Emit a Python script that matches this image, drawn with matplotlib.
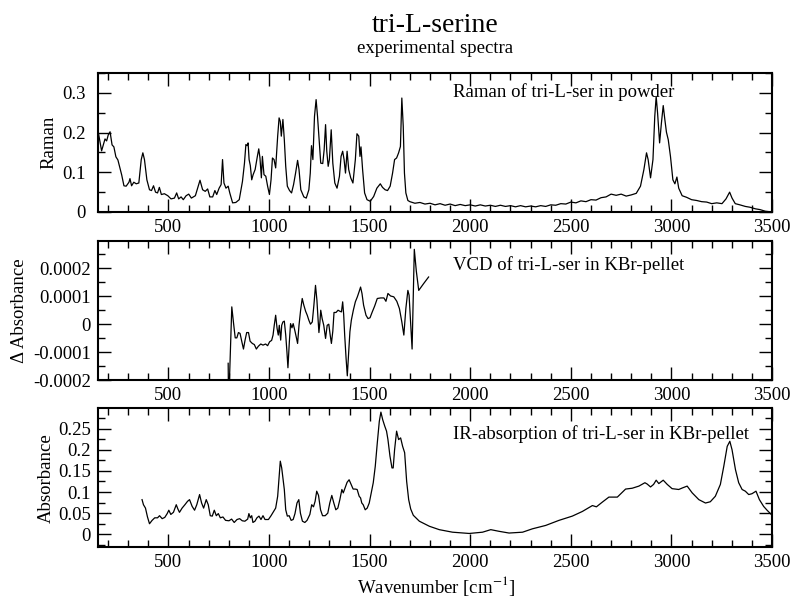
import numpy as np
import matplotlib.pyplot as plt
from matplotlib.ticker import MultipleLocator, FuncFormatter

plt.rcParams["font.family"] = ["Liberation Serif", "DejaVu Serif"]
plt.rcParams["mathtext.fontset"] = "stix"

# Raman of tri-L-ser in powder
raman_wn = [150, 168, 185, 193, 201, 210, 220, 229, 239, 249,
            259, 268, 279, 290, 304, 309, 317, 328, 340, 353,
            365, 373, 381, 393, 406, 416, 426, 436, 446, 455,
            465, 480, 497, 513, 530, 541, 551, 563, 574, 588,
            601, 614, 634, 645, 657, 670, 683, 695, 706, 720,
            731, 740, 752, 762, 769, 776, 786, 797, 805, 819,
            835, 852, 868, 878, 885, 891, 896, 901, 907, 914,
            921, 931, 942, 949, 955, 962, 967, 975, 984, 993,
            1002, 1010, 1017, 1025, 1033, 1043, 1050, 1056, 1061, 1069,
            1076, 1083, 1091, 1102, 1112, 1122, 1132, 1142, 1149, 1158,
            1173, 1185, 1198, 1205, 1211, 1218, 1226, 1234, 1241, 1248,
            1257, 1267, 1274, 1281, 1287, 1294, 1300, 1309, 1317, 1327,
            1338, 1350, 1358, 1366, 1373, 1380, 1388, 1396, 1406, 1417,
            1429, 1437, 1446, 1452, 1457, 1465, 1475, 1487, 1503, 1520,
            1536, 1553, 1564, 1577, 1589, 1602, 1614, 1624, 1634, 1644,
            1653, 1660, 1667, 1673, 1680, 1690, 1700, 1725, 1750, 1775,
            1800, 1825, 1850, 1875, 1900, 1925, 1950, 1975, 2000, 2025,
            2050, 2075, 2100, 2125, 2150, 2175, 2200, 2225, 2250, 2275,
            2300, 2325, 2350, 2375, 2400, 2425, 2450, 2475, 2500, 2525,
            2550, 2575, 2600, 2625, 2650, 2675, 2700, 2725, 2750, 2775,
            2800, 2825, 2846, 2863, 2876, 2884, 2896, 2908, 2917, 2924,
            2931, 2941, 2950, 2959, 2967, 2975, 2984, 2995, 3007, 3017,
            3027, 3036, 3053, 3075, 3100, 3125, 3150, 3175, 3200, 3225,
            3251, 3271, 3289, 3301, 3317, 3340, 3367, 3390, 3417, 3440,
            3466, 3500]
raman_int = [.205, .154, .184, .179, .194, .202, .169, .164, .139, .131,
             .111, .093, .066, .065, .075, .084, .066, .075, .071, .073,
             .132, .149, .132, .081, .056, .054, .066, .050, .048, .062,
             .044, .046, .041, .033, .035, .048, .033, .038, .031, .041,
             .045, .035, .041, .060, .080, .056, .052, .058, .038, .038,
             .054, .044, .060, .069, .132, .073, .060, .065, .048, .023,
             .024, .031, .077, .123, .170, .167, .174, .132, .117, .081,
             .094, .107, .140, .159, .136, .086, .140, .094, .090, .065,
             .044, .081, .136, .132, .111, .191, .237, .228, .191, .233,
             .182, .115, .065, .054, .048, .069, .098, .130, .107, .056,
             .038, .035, .056, .098, .167, .132, .241, .283, .241, .191,
             .123, .122, .157, .220, .153, .115, .132, .207, .123, .073,
             .060, .090, .140, .153, .132, .098, .153, .107, .086, .073,
             .132, .197, .191, .140, .164, .107, .048, .031, .027, .039,
             .060, .071, .062, .056, .054, .065, .098, .132, .136, .149,
             .165, .287, .216, .098, .048, .029, .026, .022, .024, .020,
             .022, .018, .021, .017, .020, .016, .019, .016, .018, .015,
             .018, .015, .017, .014, .017, .014, .016, .013, .016, .013,
             .015, .013, .016, .014, .018, .017, .021, .020, .025, .023,
             .028, .026, .031, .030, .036, .038, .045, .042, .045, .040,
             .043, .047, .065, .107, .149, .132, .086, .132, .241, .291,
             .249, .174, .224, .268, .233, .201, .182, .140, .081, .071,
             .088, .060, .041, .037, .031, .029, .026, .025, .021, .023,
             .021, .033, .050, .035, .021, .018, .014, .012, .008, .006,
             .002, .000]

# VCD of tri-L-ser in KBr-pellet (delta absorbance, units of 1e-4)
vcd_wn = [797, 799, 815, 823, 832, 840, 848, 856, 865, 873,
          881, 889, 898, 906, 917, 927, 937, 947, 959, 970,
          983, 993, 1003, 1013, 1020, 1026, 1033, 1040, 1046, 1051,
          1058, 1063, 1069, 1076, 1083, 1089, 1094, 1101, 1107, 1114,
          1120, 1129, 1135, 1142, 1149, 1157, 1165, 1173, 1182, 1190,
          1198, 1206, 1215, 1223, 1231, 1238, 1243, 1248, 1253, 1257,
          1264, 1272, 1281, 1289, 1297, 1304, 1310, 1317, 1323, 1333,
          1343, 1353, 1360, 1366, 1371, 1376, 1383, 1389, 1396, 1402,
          1409, 1419, 1429, 1439, 1447, 1455, 1462, 1470, 1482, 1492,
          1502, 1512, 1525, 1538, 1555, 1571, 1581, 1591, 1604, 1620,
          1635, 1648, 1660, 1670, 1680, 1690, 1696, 1711, 1722, 1732,
          1744, 1768, 1793]
vcd_da = [-1.40, -3.00, 0.62, 0.08, -0.49, -0.49, -0.30, -0.33, -0.63, -0.89,
          -0.57, -0.30, -0.30, -0.61, -0.69, -0.73, -0.89, -0.79, -0.71, -0.75,
          -0.71, -0.77, -0.63, -0.58, -0.39, -0.04, 0.32, -0.15, -0.39, -0.04,
          -0.57, -0.04, 0.08, 0.11, -0.39, -0.99, -1.56, -0.63, 0.02, -0.13,
          0.02, -0.25, -0.45, -0.69, -0.04, 0.50, 0.92, 0.68, 0.46, 0.32,
          0.14, 0.00, 0.08, 0.68, 1.39, 0.86, 0.26, -0.30, 0.08, 0.50,
          0.20, -0.04, -0.51, -0.04, 0.00, -0.39, -0.69, -0.25, 0.42, 0.42,
          0.50, 0.46, 0.44, 0.80, 0.35, -0.39, -1.23, -1.85, -0.99, -0.27,
          0.14, 0.50, 0.80, 0.98, 1.15, 1.33, 1.10, 0.68, 0.32, 0.20,
          0.23, 0.42, 0.65, 0.92, 0.94, 0.94, 0.82, 1.10, 1.01, 0.98,
          0.82, 0.56, 0.08, -0.39, 0.56, 1.21, 1.04, -0.89, 2.68, 1.90,
          1.21, 1.45, 1.69]

# IR-absorption of tri-L-ser in KBr-pellet
ir_wn = [369, 376, 386, 396, 406, 419, 432, 446, 456, 469,
         482, 494, 502, 512, 525, 539, 547, 555, 568, 582,
         595, 605, 618, 630, 641, 655, 665, 675, 688, 698,
         708, 718, 728, 738, 748, 758, 771, 784, 801, 814,
         827, 841, 854, 867, 880, 894, 900, 907, 914, 920,
         930, 940, 950, 960, 970, 980, 997, 1010, 1023, 1033,
         1043, 1050, 1056, 1063, 1070, 1076, 1083, 1091, 1100, 1110,
         1120, 1129, 1139, 1148, 1156, 1166, 1178, 1189, 1203, 1212,
         1221, 1229, 1237, 1246, 1256, 1266, 1279, 1292, 1302, 1312,
         1322, 1332, 1342, 1352, 1362, 1369, 1378, 1388, 1398, 1408,
         1418, 1428, 1438, 1448, 1455, 1461, 1468, 1478, 1488, 1498,
         1508, 1518, 1528, 1538, 1548, 1556, 1565, 1575, 1584, 1591,
         1601, 1611, 1617, 1624, 1634, 1644, 1654, 1664, 1674, 1684,
         1694, 1704, 1717, 1747, 1797, 1846, 1912, 1995, 2061, 2102,
         2144, 2193, 2260, 2309, 2375, 2441, 2507, 2557, 2607, 2627,
         2656, 2689, 2731, 2772, 2805, 2838, 2868, 2879, 2896, 2911,
         2924, 2937, 2959, 2979, 3003, 3036, 3056, 3078, 3103, 3136,
         3169, 3193, 3218, 3243, 3260, 3277, 3290, 3301, 3318, 3334,
         3351, 3367, 3384, 3400, 3420, 3437, 3458, 3475, 3500]
ir_abs = [.082, .070, .062, .041, .025, .033, .039, .039, .044, .037,
          .040, .049, .057, .047, .052, .070, .060, .052, .062, .070,
          .078, .082, .066, .057, .070, .094, .074, .062, .082, .070,
          .044, .043, .057, .044, .049, .039, .041, .033, .032, .036,
          .028, .035, .037, .032, .031, .036, .049, .039, .044, .028,
          .031, .039, .043, .035, .044, .035, .035, .044, .054, .062,
          .090, .133, .173, .157, .129, .106, .058, .043, .044, .033,
          .035, .049, .074, .082, .050, .031, .028, .033, .047, .070,
          .065, .078, .102, .092, .058, .044, .044, .050, .074, .092,
          .074, .058, .062, .082, .106, .098, .110, .123, .129, .118,
          .107, .107, .106, .090, .086, .074, .070, .058, .062, .074,
          .098, .122, .161, .216, .267, .289, .271, .256, .244, .224,
          .185, .157, .157, .200, .244, .224, .228, .208, .193, .125,
          .082, .060, .045, .031, .019, .011, .005, .002, .005, .011,
          .007, .003, .005, .013, .021, .033, .043, .054, .068, .065,
          .076, .088, .088, .107, .109, .114, .122, .119, .112, .118,
          .128, .120, .128, .118, .108, .106, .110, .114, .098, .082,
          .074, .077, .090, .118, .161, .208, .220, .200, .153, .122,
          .106, .102, .094, .096, .102, .082, .066, .057, .045]


def fmt(v, pos):
    if abs(v) < 1e-12:
        return "0"
    return "%g" % v


fig = plt.figure(figsize=(7.94, 5.98), dpi=100)
left, width = 0.1234, 0.849

panels = [
    # bottom, height, x, y, ylim, major, minor, ylabel, label x, text, text y, pad
    (0.6455, 0.2324, raman_wn, raman_int, (0, 0.35), 0.1, 0.05, "Raman", -0.072,
     "Raman of tri-L-ser in powder", 0.825, 9),
    (0.3645, 0.2330, vcd_wn, np.array(vcd_da) * 1e-4, (-0.0002, 0.000299), 0.0001, 0.00005,
     "\u0394 Absorbance", -0.117, "VCD of tri-L-ser in KBr-pellet", 0.79, 5),
    (0.0853, 0.2319, ir_wn, ir_abs, (-0.03, 0.298), 0.05, 0.025, "Absorbance", -0.076,
     "IR-absorption of tri-L-ser in KBr-pellet", 0.78, 5),
]

for (b, h, xs, ys, ylim, major, minor, ylab, labx, txt, ty, pad) in panels:
    ax = fig.add_axes([left, b, width, h])
    ax.plot(xs, ys, color="black", lw=0.9)
    ax.set_xlim(150, 3500)
    ax.set_ylim(*ylim)
    ax.xaxis.set_major_locator(MultipleLocator(500))
    ax.xaxis.set_minor_locator(MultipleLocator(100))
    ax.yaxis.set_major_locator(MultipleLocator(major))
    ax.yaxis.set_minor_locator(MultipleLocator(minor))
    ax.yaxis.set_major_formatter(FuncFormatter(fmt))
    ax.tick_params(which="both", direction="in", top=True, right=True,
                   labelsize=13.5, width=1)
    ax.tick_params(which="major", length=9.5)
    ax.tick_params(which="minor", length=5)
    ax.tick_params(axis="x", pad=5)
    ax.tick_params(axis="y", pad=pad)
    for sp in ax.spines.values():
        sp.set_linewidth(1.5)
    ax.set_ylabel(ylab, fontsize=13.5)
    ax.yaxis.label.set_va("center")
    ax.yaxis.set_label_coords(labx, 0.5)
    ax.text(0.527, ty, txt, transform=ax.transAxes, fontsize=13.5, va="baseline")

fig.text(0.548, 0.9465, "tri-L-serine", ha="center", va="baseline", fontsize=20)
fig.text(0.548, 0.9114, "experimental spectra", ha="center", va="baseline", fontsize=13.5)
fig.text(0.549, 0.008, "Wavenumber [cm$^{-1}$]", ha="center", va="baseline", fontsize=13.5)

plt.savefig("out.png", dpi=100)
